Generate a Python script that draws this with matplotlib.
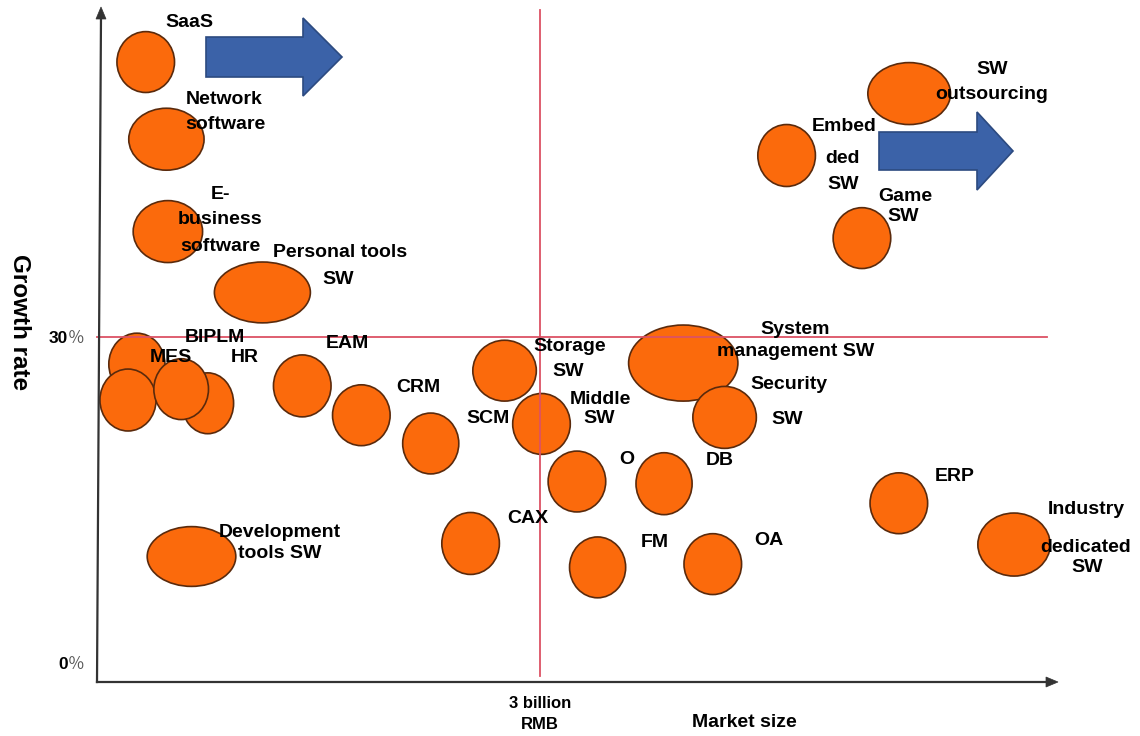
import matplotlib
matplotlib.use("Agg")
import matplotlib.pyplot as plt
from matplotlib.patches import Ellipse, Polygon

# ---------------- data ----------------
categories = ["SaaS", "Network software", "E-business software", "Personal tools SW",
              "BI", "PLM", "MES", "HR", "EAM", "CRM", "SCM", "Storage SW", "Middleware SW",
              "O", "DB", "CAX", "FM", "OA", "System management SW", "Security SW",
              "Development tools SW", "ERP", "Industry dedicated SW", "Embedded SW",
              "Game SW", "SW outsourcing"]
market_size = [0.33, 0.47, 0.48, 1.12, 0.27, 0.75, 0.21, 0.57, 1.39, 1.79, 2.26, 2.76, 3.01,
               3.25, 3.84, 2.53, 3.39, 4.17, 3.97, 4.25, 0.64, 5.43, 6.21, 4.67, 5.18, 5.50]
growth_rate = [55.3, 48.2, 39.7, 34.1, 27.5, 23.9, 24.2, 25.2, 25.5, 22.8, 20.2, 26.9, 22.0,
               16.7, 16.5, 11.0, 8.8, 9.1, 27.6, 22.6, 9.8, 14.7, 10.9, 46.7, 39.1, 52.4]
bubble_w = [0.39, 0.51, 0.47, 0.65, 0.38, 0.35, 0.38, 0.37, 0.39, 0.39, 0.38, 0.43, 0.39,
            0.39, 0.38, 0.39, 0.38, 0.39, 0.74, 0.43, 0.60, 0.39, 0.49, 0.39, 0.39, 0.56]
bubble_h = [5.6, 5.7, 5.7, 5.6, 5.7, 5.6, 5.7, 5.6, 5.7, 5.6, 5.6, 5.6, 5.6,
            5.6, 5.7, 5.7, 5.6, 5.6, 7.0, 5.7, 5.5, 5.6, 5.8, 5.7, 5.6, 5.7]
threshold_size = 3      # billion RMB
threshold_growth = 30   # %
y_ticks = [0, 30]

# ---------------- layout ----------------
W, H = 1140, 736
X0_PX, PX_PER_B = 97, 147.67
Y0_PX, PX_PER_PCT = 663, 10.867

fig = plt.figure(figsize=(W / 100, H / 100), dpi=100)
ax = fig.add_axes([0, 0, 1, 1])
ax.set_xlim((0 - X0_PX) / PX_PER_B, (W - X0_PX) / PX_PER_B)
ax.set_ylim((Y0_PX - H) / PX_PER_PCT, Y0_PX / PX_PER_PCT)
ax.axis("off")

def P(xp, yp):
    """pixel -> figure fraction"""
    return (xp / W, 1 - yp / H)

FONT = "Liberation Sans"
ORANGE = "#fb6a0c"
EDGE = "#5a2a0c"

# bubbles
for xs, gr, bw, bh in zip(market_size, growth_rate, bubble_w, bubble_h):
    ax.add_patch(Ellipse((xs, gr), bw, bh, facecolor=ORANGE, edgecolor=EDGE,
                         linewidth=1.2, zorder=3))

# red threshold lines
red = "#dc5264"
ax.plot([0, (1047 - X0_PX) / PX_PER_B], [threshold_growth, threshold_growth],
        color=red, lw=1.3, zorder=4)
ax.plot([threshold_size, threshold_size], [(Y0_PX - 10) / PX_PER_PCT, (Y0_PX - 676) / PX_PER_PCT],
        color=red, lw=1.3, zorder=4)

# axes with arrows
axc = "#333333"
fig.add_artist(plt.Line2D(*zip(P(97, 682), P(1050, 682)), transform=fig.transFigure,
                          color=axc, lw=1.6))
fig.add_artist(plt.Line2D(*zip(P(97, 682), P(101, 16)), transform=fig.transFigure,
                          color=axc, lw=1.6))
fig.add_artist(Polygon([P(1058, 682), P(1046, 677), P(1046, 687)], closed=True,
                       transform=fig.transFigure, facecolor=axc, edgecolor=axc, lw=0.5))
fig.add_artist(Polygon([P(101, 7), P(96, 19), P(106, 19)], closed=True,
                       transform=fig.transFigure, facecolor=axc, edgecolor=axc, lw=0.5))

# blue arrows
def block_arrow(x0, x_head, x_tip, yc, body_half, head_half):
    pts = [P(x0, yc - body_half), P(x_head, yc - body_half), P(x_head, yc - head_half),
           P(x_tip, yc), P(x_head, yc + head_half), P(x_head, yc + body_half),
           P(x0, yc + body_half)]
    fig.add_artist(Polygon(pts, closed=True, transform=fig.transFigure,
                           facecolor="#3b62a8", edgecolor="#2c4a80", lw=1.2, zorder=5))

block_arrow(206, 303, 342, 57, 20, 39)
block_arrow(879, 977, 1013, 151, 19, 39)

# labels (text, x_px, y_center_px)
labels = [
    ("SaaS", 189, 20),
    ("Network", 224, 97), ("software", 225, 122),
    ("E-", 220, 192), ("business", 220, 217), ("software", 220, 244),
    ("Personal tools", 340, 250), ("SW", 338, 277),
    ("BIPLM", 215, 335), ("MES", 171, 355), ("HR", 245, 355),
    ("EAM", 347, 341), ("CRM", 418, 385), ("SCM", 488, 416),
    ("Storage", 570, 344), ("SW", 568, 369),
    ("Middle", 600, 397), ("SW", 599, 416),
    ("O", 627, 457), ("DB", 720, 458),
    ("CAX", 528, 516), ("FM", 655, 540), ("OA", 769, 538),
    ("System", 795, 327), ("management SW", 796, 349),
    ("Security", 789, 382), ("SW", 787, 417),
    ("Development", 280, 530), ("tools SW", 280, 551),
    ("ERP", 955, 474),
    ("Industry", 1086, 507), ("dedicated", 1086, 545), ("SW", 1087, 565),
    ("Embed", 844, 124), ("ded", 842, 156), ("SW", 843, 182),
    ("Game", 905, 194), ("SW", 903, 214),
    ("SW", 992, 67), ("outsourcing", 992, 92),
]
for txt, xp, yp in labels:
    fig.text(*P(xp, yp + 7), txt, ha="center", va="baseline", fontsize=14,
             fontweight="bold", family=FONT, color="black", zorder=6)

# y tick labels
for val in y_ticks:
    yp = Y0_PX - val * PX_PER_PCT
    fig.text(*P(68, yp + 6), f"{val}", ha="right", va="baseline", fontsize=12.5,
             fontweight="bold", family=FONT)
    fig.text(*P(68, yp + 6), "\uff05", ha="left", va="baseline", fontsize=12,
             family=["Noto Sans CJK SC", "DejaVu Sans"], color="#555555", fontweight="light")

# x tick label
fig.text(*P(540, 702 + 6), "3 billion", ha="center", va="baseline", fontsize=12,
         fontweight="bold", family=FONT)
fig.text(*P(540, 723 + 6), "RMB", ha="center", va="baseline", fontsize=12,
         fontweight="bold", family=FONT)

# axis titles
fig.text(*P(744, 720 + 7), "Market size", ha="center", va="baseline", fontsize=14,
         fontweight="bold", family=FONT)
fig.text(*P(19, 322), "Growth rate", ha="center", va="center", fontsize=17.5,
         fontweight="bold", family=FONT, rotation=270)

fig.savefig("out.png", dpi=100, facecolor="white")
